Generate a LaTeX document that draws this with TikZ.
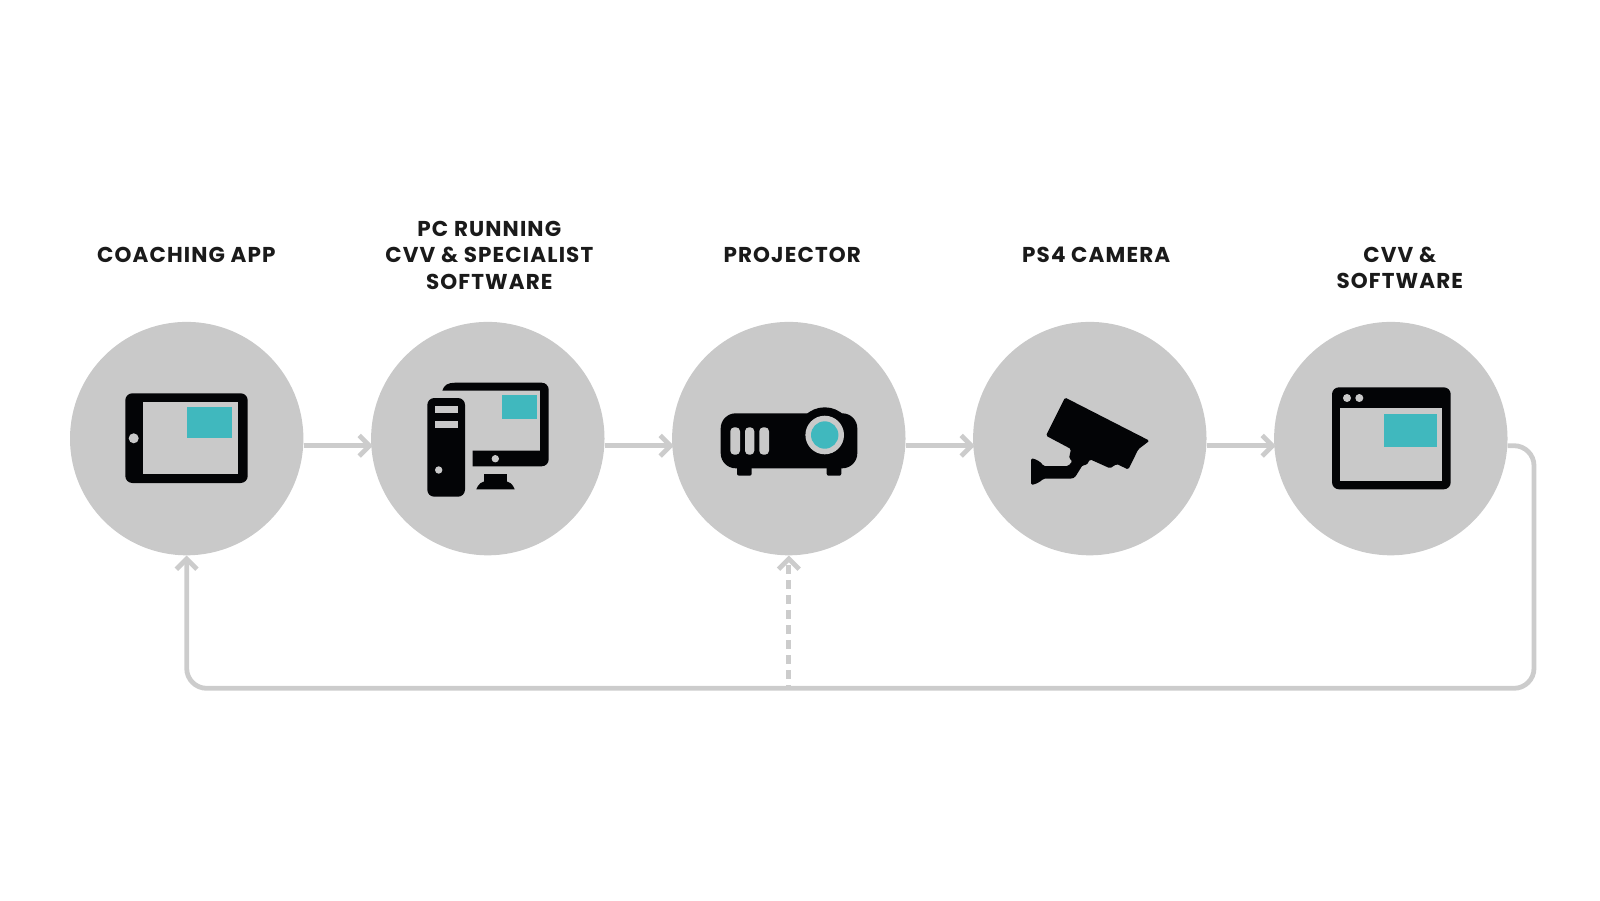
\documentclass[tikz,border=0pt]{standalone}
\usepackage{fontspec}
\setmainfont{Poppins}[LetterSpace=5.2]
\usetikzlibrary{arrows.meta}
\definecolor{disc}{HTML}{C9C9C9}
\definecolor{wire}{HTML}{CCCCCC}
\definecolor{teal}{HTML}{40B8BE}
\definecolor{ink}{HTML}{030406}
\definecolor{labelink}{HTML}{1A1A1A}
\pgfdeclarearrow{
  name=Chevron,
  setup code={
    \pgfarrowssettipend{3.4pt}
    \pgfarrowssetlineend{-2pt}
    \pgfarrowssetvisualbackend{-3pt}
    \pgfarrowssetbackend{-14pt}
    \pgfarrowshullpoint{3.4pt}{0pt}
    \pgfarrowsupperhullpoint{-14pt}{14pt}
  },
  drawing code={
    \pgfsetdash{}{0pt}
    \pgfsetbuttcap
    \pgfsetmiterjoin
    \pgfsetlinewidth{4.8pt}
    \pgfpathmoveto{\pgfqpoint{-10.3pt}{10.3pt}}
    \pgfpathlineto{\pgfqpoint{0pt}{0pt}}
    \pgfpathlineto{\pgfqpoint{-10.3pt}{-10.3pt}}
    \pgfusepathqstroke
  }
}
\tikzset{
  disc node/.style={circle,fill=disc,draw=none,inner sep=0pt,minimum size=233.4pt},
  label node/.style={align=center,text=labelink,font=\fontsize{21.5}{26.6}\selectfont\bfseries,inner sep=0pt},
  barb/.style={-{Chevron}},
  wire line/.style={draw=wire,line width=4.8pt},
  ink fill/.style={fill=ink,draw=none},
  hole/.style={fill=disc,draw=none},
  screen/.style={fill=teal,draw=none}
}
\begin{document}
\begin{tikzpicture}[x=1pt,y=-1pt]
\useasboundingbox (0,0) rectangle (1600,900);
% discs
\node[disc node] (c1) at (186.7,438.6) {};
\node[disc node] (c2) at (487.8,438.6) {};
\node[disc node] (c3) at (788.8,438.6) {};
\node[disc node] (c4) at (1089.8,438.6) {};
\node[disc node] (c5) at (1390.8,438.6) {};
% labels
\node[label node] (l1) at (186.3,254.5) {COACHING APP};
\node[label node] (l2) at (489.3,255.3) {PC RUNNING\\CVV \& SPECIALIST\\SOFTWARE};
\node[label node] (l3) at (792.2,254.5) {PROJECTOR};
\node[label node] (l4) at (1096.2,254.5) {PS4 CAMERA};
\node[label node] (l5) at (1399.8,268) {CVV \&\\SOFTWARE};
% connectors
\draw[wire line,barb] ([yshift=-7.1pt]c1.east) -- ([xshift=2pt,yshift=-7.1pt]c2.west);
\draw[wire line,barb] ([yshift=-7.1pt]c2.east) -- ([xshift=2pt,yshift=-7.1pt]c3.west);
\draw[wire line,barb] ([yshift=-7.1pt]c3.east) -- ([xshift=2pt,yshift=-7.1pt]c4.west);
\draw[wire line,barb] ([yshift=-7.1pt]c4.east) -- ([xshift=2pt,yshift=-7.1pt]c5.west);
\coordinate (rt) at (1534,445.7);
\coordinate (rb) at (1534,688.3);
\coordinate (lb) at (186.7,688.3);
\coordinate (jn) at (788.8,688.3);
\draw[wire line,barb,rounded corners=20pt] ([yshift=-7.1pt]c5.east) -- (rt) -- (rb) -- (lb) -- (c1.south);
\draw[wire line,barb,dash pattern=on 8.3pt off 6.7pt,dash phase=5.3pt] (jn) -- (c3.south);
% tablet
\fill[ink fill,rounded corners=7pt] (125.3,393.3) rectangle (247.7,483);
\fill[hole] (142.7,402) rectangle (237.7,474.3);
\fill[screen] (187,407) rectangle (232.3,438.3);
\fill[hole] (133.7,438.3) circle (5);
% pc monitor
\fill[ink fill,rounded corners=6pt] (442.3,390.7) [sharp corners] -- (442.3,390.7) .. controls (444,385) and (448,382.7) .. (455,382.7) [rounded corners=7pt] -- (548.7,382.7) -- (548.7,466.3) [sharp corners] -- (472.7,466.3) -- (472.7,450.7) -- (540,450.7) -- (540,390.7) -- cycle;
\fill[screen] (502,395) rectangle (537,419);
\fill[hole] (495.3,458.7) circle (3.7);
\fill[ink fill] (484.3,473.7) rectangle (507,483);
\fill[ink fill] (476.3,489.3) .. controls (478,484) and (482,481) .. (488,481) -- (503,481) .. controls (509,481) and (513,484) .. (514.7,489.3) -- cycle;
% pc tower
\fill[ink fill,rounded corners=7pt] (427.3,398) rectangle (465,496.7);
\fill[hole] (434.7,405.7) rectangle (457.7,413.3);
\fill[hole] (434.7,421) rectangle (457.7,428.3);
\fill[hole] (438.7,470) circle (3.7);
% projector
\fill[ink fill,rounded corners=15pt] (720.7,413.3) rectangle (857.3,468.3);
\fill[ink fill] (824.7,435) circle (27.7);
\fill[ink fill,rounded corners=2pt] (737,462) rectangle (751.7,475.7);
\fill[ink fill,rounded corners=2pt] (826.7,462) rectangle (841.3,475.7);
\fill[hole] (824.7,435) circle (19.3);
\fill[teal] (824.7,435) circle (13.7);
\fill[hole,rounded corners=4pt] (730.3,427.3) rectangle (740,454.7);
\fill[hole,rounded corners=4pt] (745,427.3) rectangle (754.3,454.7);
\fill[hole,rounded corners=4pt] (759.3,427.3) rectangle (769,454.7);
% camera
\fill[ink fill,rounded corners=1.5pt] (1065,397.5) -- (1149.5,440.7) -- (1138.3,449.3) -- (1128.3,469.5) -- (1116.7,464) -- (1110,468.3) -- (1090,459.3) -- (1086.7,465) -- (1082.7,465) -- (1075,477.3) -- (1071.7,478.7) -- (1043.3,478.7) .. controls (1040,482) and (1036,484) .. (1031,485) -- (1031,458.3) .. controls (1036,459) and (1041,462) .. (1043.3,466) -- (1068.3,466) -- (1072.5,461) -- (1069,458.3) -- (1071,449) -- (1046,435.7) -- cycle;
% browser window
\fill[ink fill,rounded corners=7pt] (1332,387.3) rectangle (1450.7,489.3);
\fill[hole] (1340.3,408.3) rectangle (1442.3,480.7);
\fill[screen] (1384.3,414.3) rectangle (1436.7,447.3);
\fill[hole] (1347,398) circle (4);
\fill[hole] (1359.3,398) circle (4);
\end{tikzpicture}
\end{document}
